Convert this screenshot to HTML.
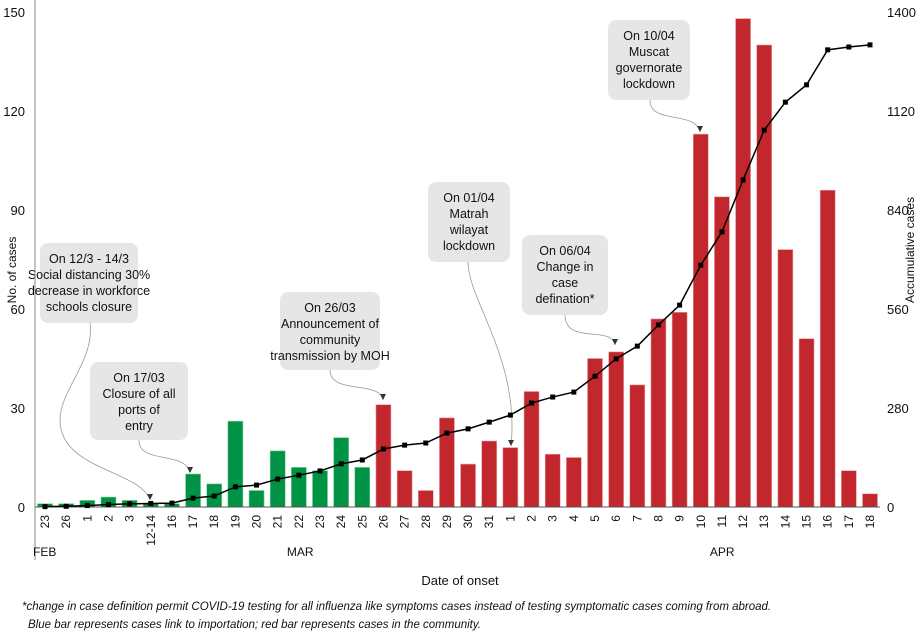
<!DOCTYPE html>
<html><head><meta charset="utf-8"><style>
body{margin:0;background:#fff;}
svg{display:block;font-family:"Liberation Sans Narrow","Liberation Sans",sans-serif;}
text{fill:#111;}
</style></head><body>
<svg id="chart" width="919" height="639" xmlns="http://www.w3.org/2000/svg">
<g id="annots"></g>
<g id="bars"></g>
<g id="axes"></g>
<g id="line"></g>
<g id="notes"></g>
</svg>
<script>
const categories=["23","26","1","2","3","12-14","16","17","18","19","20","21","22","23","24","25","26","27","28","29","30","31","1","2","3","4","5","6","7","8","9","10","11","12","13","14","15","16","17","18"];
const dailyCases=[1,1,2,3,2,1,1,10,7,26,5,17,12,11,21,12,31,11,5,27,13,20,18,35,16,15,45,47,37,57,59,113,94,148,140,78,51,96,11,4];
const cumulativeCases=[1,2,4,7,9,10,11,25,31,57,62,79,90,102,122,133,164,175,181,209,221,240,260,294,311,325,370,419,455,515,571,684,778,925,1066,1145,1194,1293,1301,1307];
const importedCount=16;
const leftTicks=[0,30,60,90,120,150];
const rightTicks=[0,280,560,840,1120,1400];
const months=[["FEB",0],["MAR",12],["APR",32]];

const NS="http://www.w3.org/2000/svg";
function mk(tag,attrs,parent,txt){const e=document.createElementNS(NS,tag);for(const k in attrs)e.setAttribute(k,attrs[k]);if(txt!==undefined)e.textContent=txt;parent.appendChild(e);return e;}
const y0=507,yTop=12,xFirst=45,xLast=870;
const yL=v=>y0-(v/150)*(y0-yTop);
const yR=v=>y0-(v/1400)*(y0-yTop);
const step=(xLast-xFirst)/(categories.length-1);
const xC=i=>xFirst+i*step;
const bw=15;

const bars=document.getElementById('bars');
dailyCases.forEach((v,i)=>{
  const r=mk('rect',{x:xC(i)-bw/2,y:yL(v),width:bw,height:y0-yL(v),fill:i<importedCount?'#009245':'#c1272d',stroke:i<importedCount?'#7ccf9a':'#e8a0a4','stroke-width':0.6},bars);
  
  
});

const ax=document.getElementById('axes');
let e=mk('line',{x1:35,y1:0,x2:35,y2:560,stroke:'#888','stroke-width':1},ax);

e=mk('line',{x1:35,y1:y0,x2:880,y2:y0,stroke:'#555','stroke-width':1},ax);

leftTicks.forEach(t=>{const tx=mk('text',{x:25,y:yL(t)+5,'text-anchor':'end','font-size':13},ax,String(t));
  });
rightTicks.forEach(t=>{const tx=mk('text',{x:887,y:yR(t)+5,'text-anchor':'start','font-size':13},ax,String(t));
  });
categories.forEach((c,i)=>{const tx=mk('text',{x:0,y:0,'text-anchor':'end','font-size':12,transform:`translate(${xC(i)+4},${y0+8}) rotate(-90)`},ax,c);
  });
months.forEach(m=>{const tx=mk('text',{x:xC(m[1])-12,y:556,'font-size':12},ax,m[0]);
  });
e=mk('text',{x:0,y:0,'text-anchor':'middle','font-size':12,transform:'translate(16,270) rotate(-90)'},ax,'No. of cases');

e=mk('text',{x:0,y:0,'text-anchor':'middle','font-size':12,transform:'translate(914,250) rotate(-90)'},ax,'Accumulative cases');

e=mk('text',{x:460,y:585,'text-anchor':'middle','font-size':13},ax,'Date of onset');


const lg=document.getElementById('line');
const pts=cumulativeCases.map((v,i)=>xC(i)+','+yR(v)).join(' ');
e=mk('polyline',{points:pts,fill:'none',stroke:'#000','stroke-width':1.5},lg);

cumulativeCases.forEach((v,i)=>{const p=mk('rect',{x:xC(i)-2.5,y:yR(v)-2.5,width:5,height:5,fill:'#000'},lg);
  });

const an=document.getElementById('annots');
const boxes=[
 [40,243,98,80,["On 12/3 - 14/3","Social distancing 30%","decrease in workforce","schools closure"],"M90,323 C95,360 60,390 60,420 C60,470 140,470 150,500"],
 [90,362,98,78,["On 17/03","Closure of all","ports of","entry"],"M139,440 C139,465 185,450 190,473"],
 [280,292,100,78,["On 26/03","Announcement of","community","transmission by MOH"],"M330,370 C330,395 380,380 383,400"],
 [428,182,82,80,["On 01/04","Matrah","wilayat","lockdown"],"M468,262 C468,300 520,360 511,446"],
 [522,235,86,80,["On 06/04","Change in","case","defination*"],"M565,315 C565,345 612,325 615,345"],
 [608,20,82,80,["On 10/04","Muscat","governorate","lockdown"],"M650,100 C650,125 695,110 700,132"]
];
boxes.forEach((b,k)=>{
  const g=mk('g',{},an);
  
  mk('path',{d:b[5],fill:'none',stroke:'#999','stroke-width':0.8},g);
  const end=b[5].split(' ').pop().split(',');
  mk('path',{d:`M${+end[0]-3},${+end[1]-6} L${+end[0]+3},${+end[1]-6} L${end[0]},${end[1]} Z`,fill:'#333'},g);
  mk('rect',{x:b[0],y:b[1],width:b[2],height:b[3],rx:8,fill:'#e6e6e6'},g);
  b[4].forEach((l,j)=>mk('text',{x:b[0]+b[2]/2,y:b[1]+20+j*16,'text-anchor':'middle','font-size':12.5},g,l));
});

const nt=document.getElementById('notes');
e=mk('text',{x:22,y:610,'font-size':11.5,'font-style':'italic'},nt,'*change in case definition permit COVID-19 testing for all influenza like symptoms cases  instead of testing symptomatic cases coming from abroad.');

e=mk('text',{x:28,y:628,'font-size':11.5,'font-style':'italic'},nt,'Blue bar represents cases link to importation; red bar represents cases in the community.');

</script>
</body></html>
